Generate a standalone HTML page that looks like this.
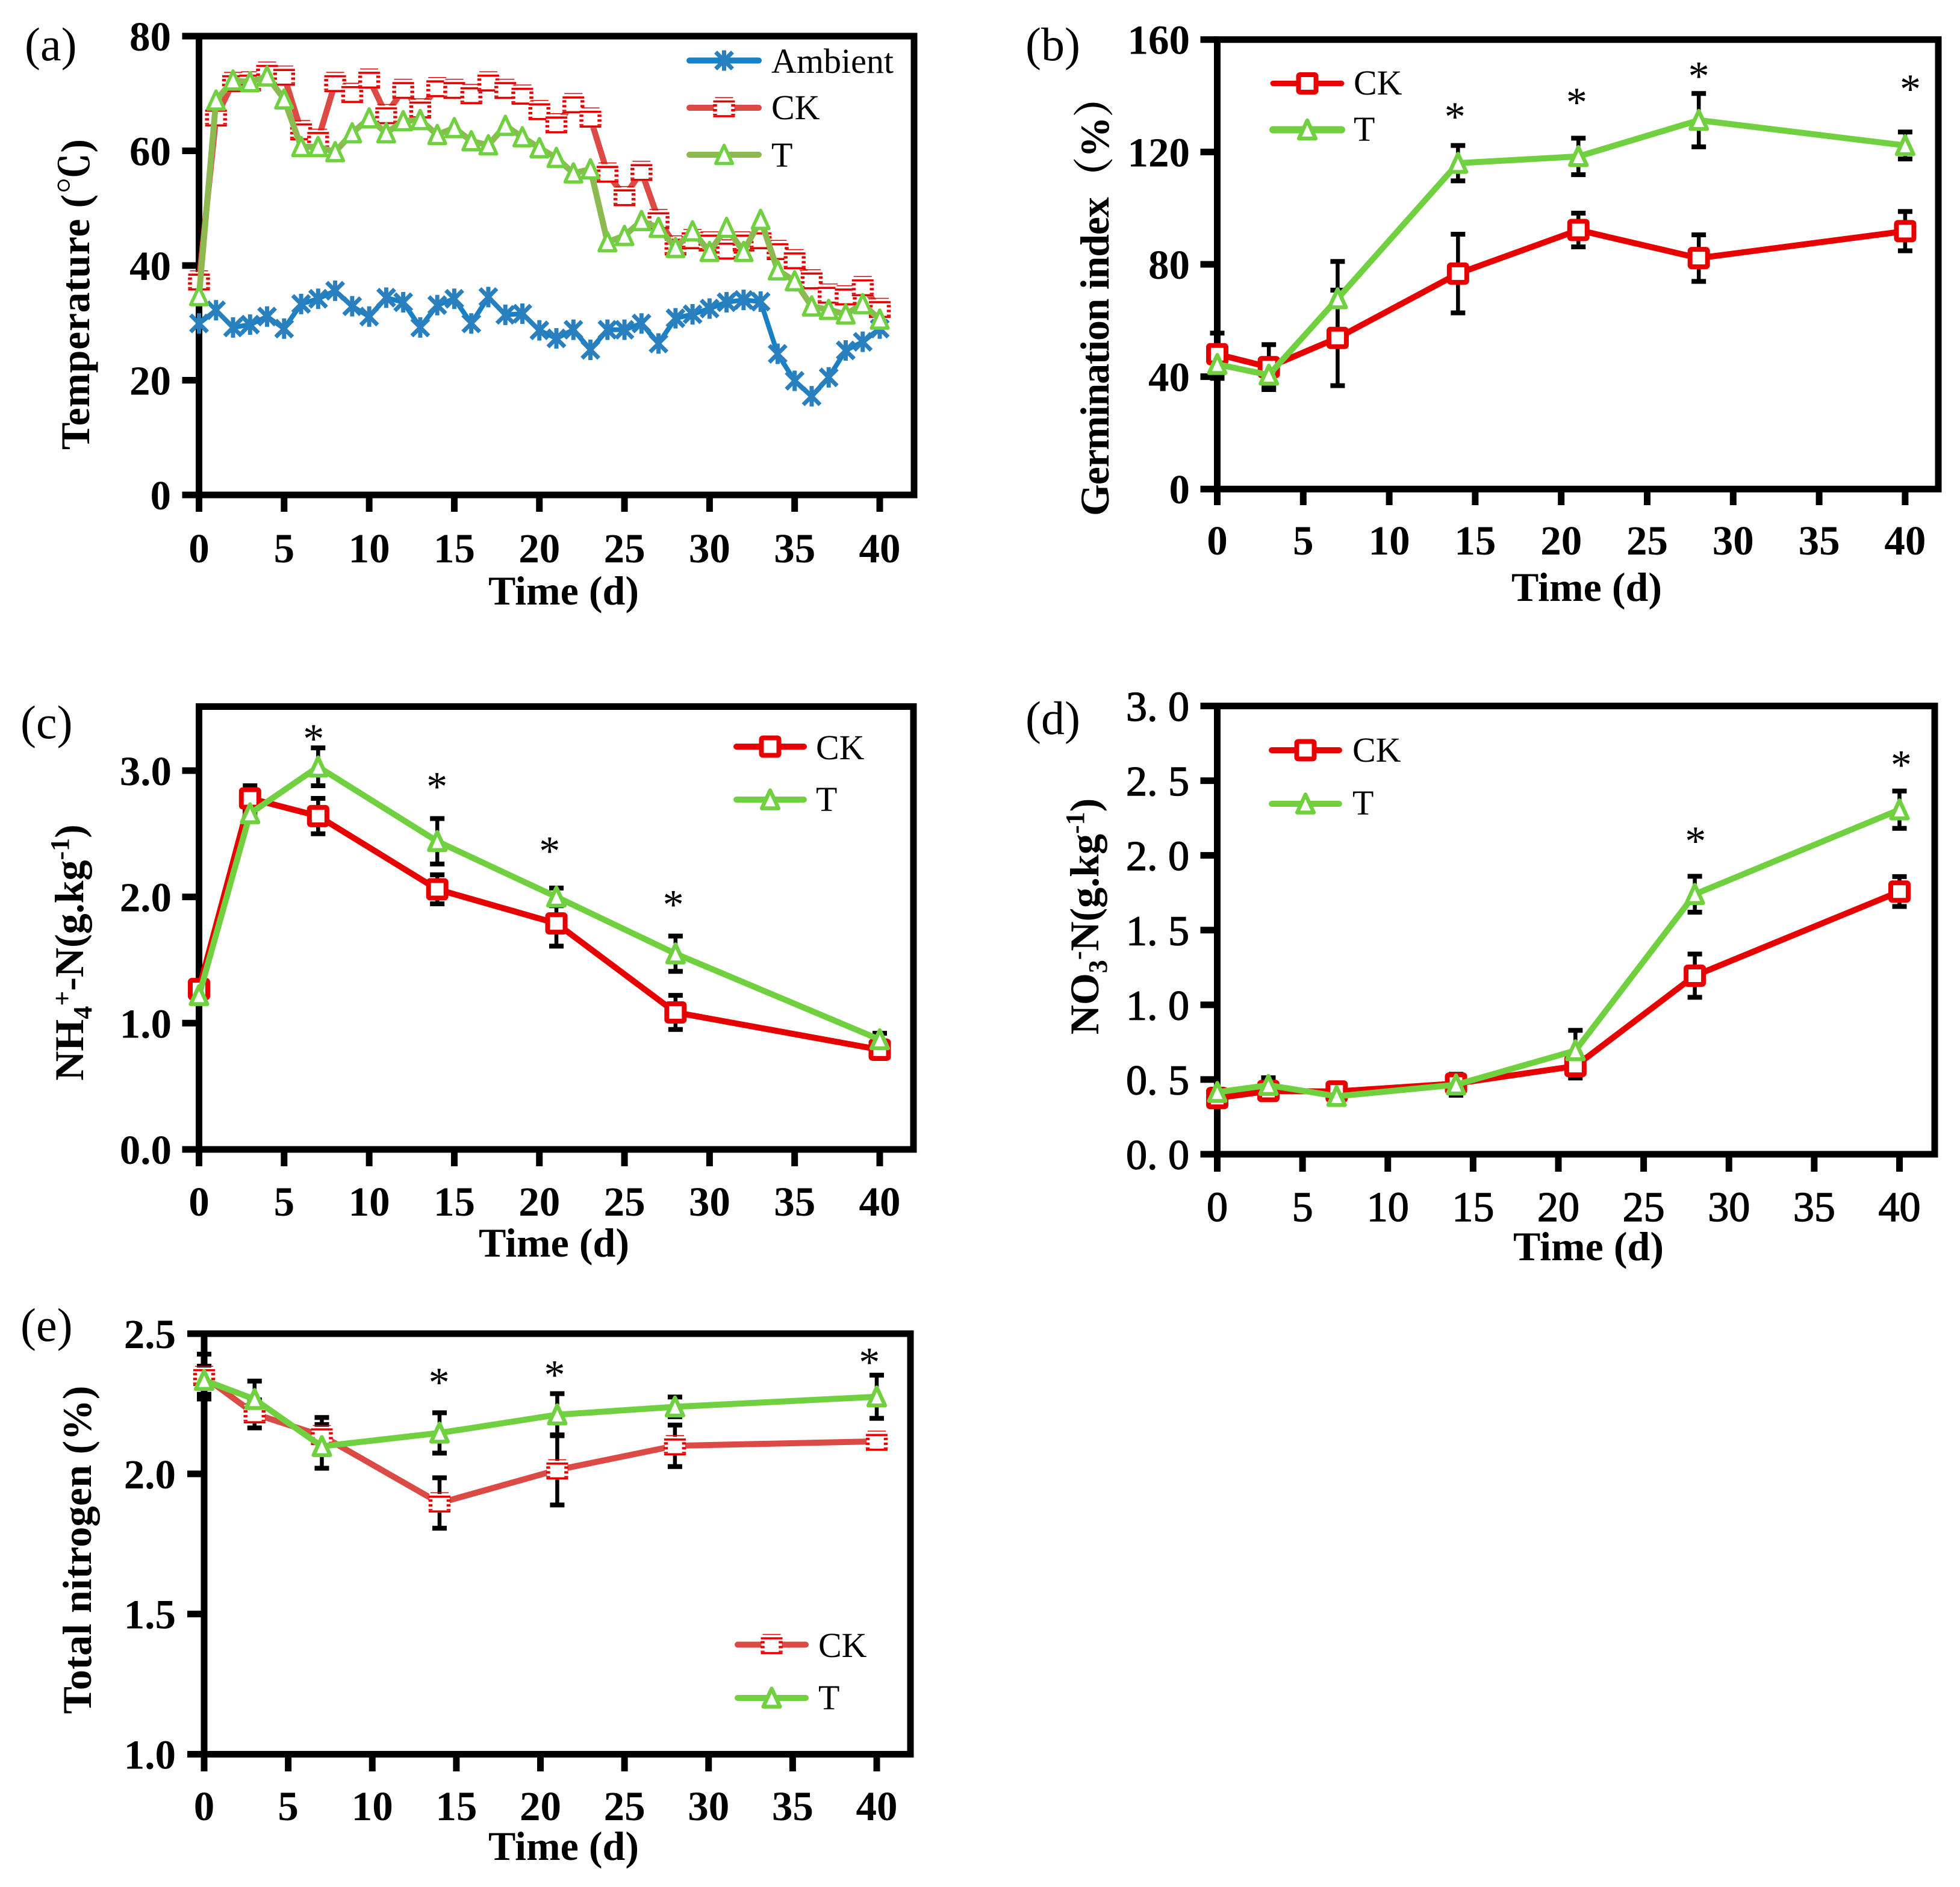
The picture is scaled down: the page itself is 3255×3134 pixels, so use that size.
<!DOCTYPE html>
<html lang="en">
<head>
<meta charset="utf-8">
<title>Composting time series panels</title>
<style>
html,body{margin:0;padding:0;background:#fff;}
svg{display:block;}
text{font-family:"Liberation Serif","Noto Serif CJK SC",serif;fill:#000;}
</style>
</head>
<body>
<svg id="figure" xmlns="http://www.w3.org/2000/svg" width="3255" height="3134" viewBox="0 0 3255 3134">
<rect x="0" y="0" width="3255" height="3134" fill="#ffffff"/>
</svg>
<script>
/* ---------- shared ticks ---------- */
const xTickLabels = ['0','5','10','15','20','25','30','35','40'];
const sampleDays = [0,3,7,14,21,28,40];

/* ---------- panel (a) ---------- */
const aDays = [0,1,2,3,4,5,6,7,8,9,10,11,12,13,14,15,16,17,18,19,20,21,22,23,24,25,26,27,28,29,30,31,32,33,34,35,36,37,38,39,40];
const aAmbient = [29.9,32.2,29.2,29.7,31.1,29,33.3,34.2,35.6,32.9,31.1,34.4,33.6,29.2,33.1,34.2,29.9,34.5,31.4,31.6,28.7,27.3,28.8,25.3,28.8,28.8,29.9,26.4,30.8,31.5,32.5,33.6,34,33.7,24.6,19.9,17.2,20.5,25.2,26.7,29];
const aCK = [37.3,65.9,71.9,72,73.7,73,63.5,62,71.9,70,72.5,66.3,70.7,67.3,71,70.7,69.8,72,70.7,69.7,67,64.7,68.2,65.7,56.1,52,56.4,48,43.4,44.5,44.1,42.7,44.1,44.5,42.6,41,37.5,35,34.7,36.3,32.5];
const aT = [34.7,68.8,72.3,72,73,69,60.7,60.7,59.8,63.1,65.7,63.1,65.2,65.4,62.8,64,61.7,61,64.4,62.4,60.5,58.8,56.1,56.8,44.1,45.2,47.8,46.6,43.1,46,42.4,46.6,42.4,48,39.2,37.3,32.9,32.3,31.5,33.3,30.6];
const aYTicks = ['0','20','40','60','80'];

/* ---------- panel (b) ---------- */
const bCK = [48,43.4,53.8,76.7,92.2,82.2,91.8];
const bCKErr = [7.5,8,17,14,6,8.3,7];
const bT = [44.4,40.6,67.8,116,118.4,131.3,122.3];
const bTErr = [5,4.5,13.2,6.3,6.5,9.5,4.8];
const bYTicks = ['0','40','80','120','160'];
const bStarDays = [13.82,20.9,28,40.3];
const bStarLevels = [134.6,139.8,149.1,144.5];

/* ---------- panel (c) ---------- */
const cCK = [1.27,2.78,2.64,2.06,1.79,1.085,0.79];
const cCKErr = [0.05,0.1,0.14,0.115,0.18,0.135,0.07];
const cT = [1.22,2.66,3.03,2.44,2,1.55,0.87];
const cTErr = [0.03,0.02,0.15,0.18,0.07,0.14,0.05];
const cYTicks = ['0.0','1.0','2.0','3.0'];
const cStarDays = [6.73,13.98,20.6,27.87];
const cStarLevels = [3.3,2.92,2.41,1.985];

/* ---------- panel (d) ---------- */
const dCK = [0.376,0.423,0.42,0.473,0.59,1.195,1.758];
const dCKErr = [0.03,0.03,0.05,0.03,0.08,0.145,0.1];
const dT = [0.415,0.462,0.388,0.465,0.694,1.74,2.306];
const dTErr = [0.02,0.05,0.02,0.07,0.135,0.12,0.125];
const dYTicks = ['0.0','0.5','1.0','1.5','2.0','2.5','3.0'];
const dStarDays = [28.04,40.1];
const dStarLevels = [2.135,2.645];

/* ---------- panel (e) ---------- */
const eCK = [2.347,2.214,2.136,1.896,2.014,2.1,2.116];
const eCKErr = [0.08,0.05,0.065,0.09,0.125,0.074,0.02];
const eT = [2.334,2.266,2.098,2.146,2.211,2.239,2.275];
const eTErr = [0.05,0.065,0.078,0.072,0.075,0.035,0.077];
const eYTicks = ['1.0','1.5','2.0','2.5'];
const eStarDays = [13.97,20.84,39.56];
const eStarLevels = [2.347,2.374,2.42];

/* ---------- drawing helpers ---------- */
const SVGNS = 'http://www.w3.org/2000/svg';
const figure = document.getElementById('figure');
const BLUE_LINE = '#1880c4', BLUE_MARK = '#2a80bf', RED_MARK = '#e60000', RED_SOFT = '#dc4a46', OLIVE = '#8cba50', GREEN = '#70d040';

function make(parent, kind, attrs, name) {
  const node = document.createElementNS(SVGNS, kind);
  for (const key in attrs) node.setAttribute(key, attrs[key]);
  
  
  parent.appendChild(node);
  return node;
}
function label(parent, x, y, str, size, weight, anchor, name) {
  const t = make(parent, 'text', {x:x, y:y, 'font-size':size, 'font-weight':weight, 'text-anchor':anchor}, name);
  t.textContent = str;
  return t;
}

function squareMarker(parent, cx, cy, dashed, name) {
  const g = make(parent, 'g', {transform:'translate(' + cx + ',' + cy + ')'}, name);
  if (dashed) {
    make(g, 'rect', {x:-17, y:-15, width:34, height:31, fill:'#ffffff'}, 'marker-fill');
    make(g, 'line', {x1:-15, x2:15, y1:-17, y2:-17, stroke:RED_MARK, 'stroke-width':1.5}, 'marker-top-hairline');
    make(g, 'line', {x1:-18, x2:18, y1:-10.5, y2:-10.5, stroke:RED_MARK, 'stroke-width':3.6}, 'marker-top');
    make(g, 'line', {x1:-18, x2:18, y1:14, y2:14, stroke:RED_MARK, 'stroke-width':3.6}, 'marker-bottom');
    make(g, 'line', {x1:-15, x2:-15, y1:-6, y2:12, stroke:RED_MARK, 'stroke-width':6.5, 'stroke-dasharray':'4 4'}, 'marker-left');
    make(g, 'line', {x1:15, x2:15, y1:-6, y2:12, stroke:RED_MARK, 'stroke-width':6.5, 'stroke-dasharray':'4 4'}, 'marker-right');
  } else {
    make(g, 'rect', {x:-14.5, y:-14.5, width:29, height:29, rx:2.5, fill:'#ffffff', stroke:RED_MARK, 'stroke-width':8}, 'marker-box');
  }
}
function triangleMarker(parent, cx, cy, sw, name) {
  make(parent, 'path', {d:'M0,-15.5L13.8,14.5L-13.8,14.5Z', transform:'translate(' + cx + ',' + cy + ')', fill:'#ffffff', stroke:GREEN, 'stroke-width':sw, 'stroke-linejoin':'round'}, name);
}
function starMarker(parent, cx, cy, name) {
  make(parent, 'path', {d:'M-14,-14L14,14M14,-14L-14,14M0,-17L0,17', transform:'translate(' + cx + ',' + cy + ')', fill:'none', stroke:BLUE_MARK, 'stroke-width':7}, name);
}

function drawFrame(p) {
  const g = make(figure, 'g', {}, 'panel-' + p.id);
  p.g = g;
  p.sx = function (d) { return p.left + d * (p.x40 - p.left) / 40; };
  p.sy = function (v) { return p.bottom - (v - p.yMin) * (p.bottom - p.yTop) / (p.yMax - p.yMin); };

  label(g, p.tagX, p.tagY, '(' + p.id + ')', 78, 'normal', 'start', 'panel-letter');

  make(g, 'path', {d:'M' + p.left + ',' + p.top + 'H' + p.right + 'V' + p.bottom + 'H' + p.left + 'Z', fill:'none', stroke:'#000', 'stroke-width':11, 'stroke-linejoin':'miter'}, 'plot-frame');

  xTickLabels.forEach(function (str) {
    const x = p.sx(parseFloat(str));
    make(g, 'line', {x1:x, x2:x, y1:p.bottom, y2:p.xTickEnd, stroke:'#000', 'stroke-width':11}, 'x-tick');
    const t = label(g, x, p.xLabelY, str, p.tickSize, p.tickWeight, 'middle', 'x-tick-label');
    if (p.lightTicks) { t.setAttribute('stroke', '#000'); t.setAttribute('stroke-width', '1.4'); }
  });
  p.yTicks.forEach(function (str) {
    const y = p.sy(parseFloat(str));
    make(g, 'line', {x1:p.left, x2:p.left - 28, y1:y, y2:y, stroke:'#000', 'stroke-width':11}, 'y-tick');
    const t = label(g, p.yLabelX, y + p.yLabelDy, p.spacedDecimal ? '' : str, p.tickSize, p.tickWeight, 'end', 'y-tick-label');
    if (p.spacedDecimal) {
      const head = make(t, 'tspan', {}, 'tick-integer');
      head.textContent = str.slice(0, 2);
      const tail = make(t, 'tspan', {dx:17.5}, 'tick-decimal');
      tail.textContent = str.slice(2);
    }
    if (p.lightTicks) { t.setAttribute('stroke', '#000'); t.setAttribute('stroke-width', '1.4'); }
  });
  label(g, p.timeX, p.timeY, 'Time (d)', 68, 'bold', 'middle', 'x-axis-title');

  const yt = make(g, 'text', {transform:'translate(' + p.ylabX + ',' + p.ylabY + ') rotate(-90)', 'font-size':68, 'font-weight':'bold', 'text-anchor':'middle'}, 'y-axis-title');
  p.ylabParts.forEach(function (part) {
    const attrs = {};
    if (part.dy) attrs.dy = part.dy;
    if (part.size) attrs['font-size'] = part.size;
    if (part.family) attrs['font-family'] = part.family;
    const s = make(yt, 'tspan', attrs, 'y-title-part');
    s.textContent = part.t;
  });
  if (p.ylabLength) { yt.setAttribute('textLength', p.ylabLength); }
}

function drawErrors(p, days, vals, errs, name) {
  days.forEach(function (d, i) {
    const x = p.sx(d), hi = p.sy(vals[i] + errs[i]), lo = p.sy(vals[i] - errs[i]);
    const g = make(p.g, 'g', {}, name);
    make(g, 'line', {x1:x, x2:x, y1:hi, y2:lo, stroke:'#000', 'stroke-width':6.5}, 'error-stem');
    make(g, 'line', {x1:x - 12, x2:x + 12, y1:hi, y2:hi, stroke:'#000', 'stroke-width':8}, 'error-cap-high');
    make(g, 'line', {x1:x - 12, x2:x + 12, y1:lo, y2:lo, stroke:'#000', 'stroke-width':8}, 'error-cap-low');
  });
}
function drawSeries(p, days, vals, color, width, marker, name) {
  const pts = days.map(function (d, i) { return p.sx(d) + ',' + p.sy(vals[i]); }).join(' ');
  const g = make(p.g, 'g', {}, name + '-series');
  make(g, 'polyline', {points:pts, fill:'none', stroke:color, 'stroke-width':width, 'stroke-linejoin':'round', 'stroke-linecap':'round'}, name + '-line');
  days.forEach(function (d, i) { marker(g, p.sx(d), p.sy(vals[i]), name + '-point'); });
}
function drawStars(p, days, levels) {
  days.forEach(function (d, i) {
    label(p.g, p.sx(d), p.sy(levels[i]) + 33, '*', 70, 'normal', 'middle', 'significance-star');
  });
}
function legendEntry(p, y, baseline, str, color, width, marker, name) {
  const g = make(p.g, 'g', {}, 'legend-' + name);
  make(g, 'line', {x1:p.legX1, x2:p.legX2, y1:y, y2:y, stroke:color, 'stroke-width':width, 'stroke-linecap':'round'}, 'legend-line');
  marker(g, (p.legX1 + p.legX2) / 2, y, 'legend-marker');
  label(g, p.legText, baseline, str, 58, 'normal', 'start', 'legend-label');
}

const solidSquare = function (g, x, y, n) { squareMarker(g, x, y, false, n); };
const dashSquare = function (g, x, y, n) { squareMarker(g, x, y, true, n); };
const tri = function (g, x, y, n) { triangleMarker(g, x, y, 6.5, n); };
const thinTri = function (g, x, y, n) { triangleMarker(g, x, y, 5.5, n); };

/* ---------- panel a ---------- */
const pa = {id:'a', left:330.5, right:1518, top:60, bottom:822, x40:1461, yMin:0, yMax:80, yTop:60, yTicks:aYTicks,
  tagX:41, tagY:100, xTickEnd:850, xLabelY:934, yLabelX:284, yLabelDy:24, tickSize:69, tickWeight:'bold',
  timeX:936, timeY:1004, ylabX:148, ylabY:489, ylabLength:516,
  ylabParts:[{t:'Temperature ('},{t:'℃',family:'"Noto Serif CJK SC",serif'},{t:')'}], legX1:1145, legX2:1260, legText:1281};
drawFrame(pa);
drawSeries(pa, aDays, aAmbient, BLUE_LINE, 8, function (g, x, y, n) { starMarker(g, x, y, n); }, 'ambient');
drawSeries(pa, aDays, aCK, RED_SOFT, 10, dashSquare, 'ck');
drawSeries(pa, aDays, aT, OLIVE, 10, thinTri, 't');
legendEntry(pa, 100.5, 121, 'Ambient', BLUE_LINE, 10, function (g, x, y, n) { starMarker(g, x, y, n); }, 'ambient');
legendEntry(pa, 179, 198, 'CK', RED_SOFT, 10, dashSquare, 'ck');
legendEntry(pa, 257, 277, 'T', OLIVE, 10, thinTri, 't');

/* ---------- panel b ---------- */
const pb = {id:'b', left:2021.5, right:3219, top:65.7, bottom:812.2, x40:3163.9, yMin:0, yMax:160, yTop:65.7, yTicks:bYTicks,
  tagX:1703, tagY:100, xTickEnd:839, xLabelY:921, yLabelX:1976, yLabelDy:24, tickSize:69, tickWeight:'bold',
  timeX:2635, timeY:998, ylabX:1841, ylabY:492, ylabLength:730,
  ylabParts:[{t:'Germination index（%）'}], legX1:2114, legX2:2228, legText:2248};
drawFrame(pb);
drawErrors(pb, sampleDays, bCK, bCKErr, 'ck-error-bar');
drawErrors(pb, sampleDays, bT, bTErr, 't-error-bar');
drawSeries(pb, sampleDays, bCK, RED_MARK, 10, solidSquare, 'ck');
drawSeries(pb, sampleDays, bT, GREEN, 10, tri, 't');
drawStars(pb, bStarDays, bStarLevels);
legendEntry(pb, 138.5, 157, 'CK', RED_MARK, 9, solidSquare, 'ck');
legendEntry(pb, 215.5, 234, 'T', GREEN, 12, tri, 't');

/* ---------- panel c ---------- */
const pc = {id:'c', left:330.5, right:1517, top:1173.5, bottom:1909, x40:1461, yMin:0, yMax:3.5, yTop:1175, yTicks:cYTicks,
  tagX:34, tagY:1226, xTickEnd:1937, xLabelY:2019, yLabelX:285, yLabelDy:24, tickSize:69, tickWeight:'bold',
  timeX:920, timeY:2087, ylabX:138, ylabY:1582,
  ylabParts:[{t:'NH'},{t:'4',dy:14,size:44},{t:'+',dy:-34,size:44},{t:'-N(g.kg',dy:20},{t:'-1',dy:-24,size:44},{t:')',dy:24}],
  legX1:1223, legX2:1335, legText:1355};
drawFrame(pc);
drawErrors(pc, sampleDays, cCK, cCKErr, 'ck-error-bar');
drawErrors(pc, sampleDays, cT, cTErr, 't-error-bar');
drawSeries(pc, sampleDays, cCK, RED_MARK, 10, solidSquare, 'ck');
drawSeries(pc, sampleDays, cT, GREEN, 10, tri, 't');
drawStars(pc, cStarDays, cStarLevels);
legendEntry(pc, 1240, 1261, 'CK', RED_MARK, 10, solidSquare, 'ck');
legendEntry(pc, 1328, 1347, 'T', GREEN, 10, tri, 't');

/* ---------- panel d ---------- */
const pd = {id:'d', left:2021.5, right:3213, top:1172.5, bottom:1917, x40:3154.5, yMin:0, yMax:3, yTop:1172.5, yTicks:dYTicks,
  tagX:1703, tagY:1219, xTickEnd:1946, xLabelY:2028, yLabelX:1975, yLabelDy:24.5, tickSize:70, tickWeight:'normal', lightTicks:true, spacedDecimal:true,
  timeX:2638, timeY:2093, ylabX:1824, ylabY:1522,
  ylabParts:[{t:'NO'},{t:'3',dy:14,size:44},{t:'-',dy:-34,size:44},{t:'N(g.kg',dy:20},{t:'-1',dy:-24,size:44},{t:')',dy:24}],
  legX1:2112, legX2:2224, legText:2246};
drawFrame(pd);
drawErrors(pd, sampleDays, dCK, dCKErr, 'ck-error-bar');
drawErrors(pd, sampleDays, dT, dTErr, 't-error-bar');
drawSeries(pd, sampleDays, dCK, RED_MARK, 10, solidSquare, 'ck');
drawSeries(pd, sampleDays, dT, GREEN, 10, tri, 't');
drawStars(pd, dStarDays, dStarLevels);
legendEntry(pd, 1246, 1265, 'CK', RED_MARK, 10, solidSquare, 'ck');
legendEntry(pd, 1335, 1353, 'T', GREEN, 10, tri, 't');

/* ---------- panel e ---------- */
const pe = {id:'e', left:339, right:1512, top:2215, bottom:2913.5, x40:1456, yMin:1, yMax:2.5, yTop:2215, yTicks:eYTicks,
  tagX:34, tagY:2227, xTickEnd:2942, xLabelY:3023, yLabelX:292, yLabelDy:24, tickSize:69, tickWeight:'bold',
  timeX:936, timeY:3089, ylabX:151, ylabY:2574, ylabLength:545,
  ylabParts:[{t:'Total nitrogen (%)'}], legX1:1225, legX2:1338, legText:1359};
drawFrame(pe);
drawErrors(pe, sampleDays, eCK, eCKErr, 'ck-error-bar');
drawErrors(pe, sampleDays, eT, eTErr, 't-error-bar');
drawSeries(pe, sampleDays, eCK, RED_SOFT, 10, dashSquare, 'ck');
drawSeries(pe, sampleDays, eT, GREEN, 10, tri, 't');
drawStars(pe, eStarDays, eStarLevels);
legendEntry(pe, 2731.5, 2752, 'CK', RED_SOFT, 10, dashSquare, 'ck');
legendEntry(pe, 2820, 2839, 'T', GREEN, 10, tri, 't');
</script>
</body>
</html>
